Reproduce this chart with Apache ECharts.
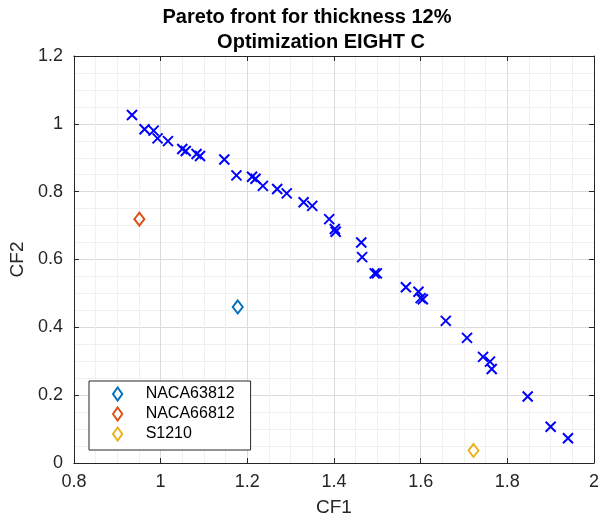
<!DOCTYPE html>
<html>
<head>
<meta charset="utf-8">
<script src="https://cdn.jsdelivr.net/npm/echarts@6/dist/echarts.min.js"></script>
<style>
html,body{margin:0;padding:0;background:#fff;}
#chart{width:602px;height:522px;}
</style>
</head>
<body>
<div id="chart"></div>
<script>
// Pareto front points (optimization results)
var paretoCF1 = [0.934, 0.963, 0.984, 0.993, 1.017, 1.050, 1.058, 1.083, 1.091, 1.147,
  1.175, 1.211, 1.219, 1.236, 1.269, 1.291, 1.330, 1.350, 1.389, 1.402,
  1.404, 1.463, 1.465, 1.494, 1.499, 1.566, 1.595, 1.600, 1.605, 1.658,
  1.707, 1.744, 1.760, 1.764, 1.847, 1.900, 1.940];
var paretoCF2 = [1.026, 0.984, 0.980, 0.957, 0.949, 0.926, 0.920, 0.911, 0.905, 0.895,
  0.848, 0.844, 0.838, 0.817, 0.808, 0.795, 0.769, 0.758, 0.719, 0.690,
  0.682, 0.650, 0.607, 0.559, 0.559, 0.518, 0.505, 0.486, 0.483, 0.419,
  0.369, 0.313, 0.299, 0.277, 0.196, 0.107, 0.073];

// Reference airfoils
var airfoilNames = ['NACA63812', 'NACA66812', 'S1210'];
var airfoilCF1 = [1.178, 0.951, 1.722];
var airfoilCF2 = [0.460, 0.719, 0.037];
var airfoilColors = ['#0072BD', '#D95319', '#EDB120'];

// Axis ticks
var xTicks = {min: 0.8, max: 2, interval: 0.2};
var yTicks = {min: 0, max: 1.2, interval: 0.2};

var axisColor = '#262626';
var fontFam = '"Liberation Sans", Arial, Helvetica, sans-serif';
var diamondPath = 'path://M5,0L10,7L5,14L0,7Z';

function zip(a, b) { return a.map(function (v, i) { return [v, b[i]]; }); }

var series = [{
  name: 'Pareto',
  type: 'scatter',
  xAxisIndex: 0, yAxisIndex: 0,
  data: zip(paretoCF1, paretoCF2),
  symbol: 'path://M0,0L10,10M10,0L0,10',
  symbolSize: 10,
  itemStyle: {color: 'transparent', borderColor: '#0000ff', borderWidth: 2, opacity: 1},
  emphasis: {disabled: true},
  z: 3
}];
airfoilNames.forEach(function (n, i) {
  series.push({
    name: n,
    type: 'scatter',
    xAxisIndex: 0, yAxisIndex: 0,
    data: [[airfoilCF1[i], airfoilCF2[i]]],
    symbol: diamondPath,
    symbolSize: [10, 13],
    itemStyle: {color: 'transparent', borderColor: airfoilColors[i], borderWidth: 2, opacity: 1},
    emphasis: {disabled: true},
    z: 4
  });
});

var chart = echarts.init(document.getElementById('chart'), null, {renderer: 'canvas'});
chart.setOption({
  animation: false,
  backgroundColor: '#fff',
  title: [{
    text: 'Pareto front for thickness 12%',
    left: 302, top: 2, textAlign: 'center',
    textStyle: {fontFamily: fontFam, fontSize: 20, fontWeight: 'bold', color: '#000'}
  }, {
    text: 'Optimization EIGHT C',
    left: 316, top: 27, textAlign: 'center',
    textStyle: {fontFamily: fontFam, fontSize: 20, fontWeight: 'bold', color: '#000'}
  }],
  grid: {left: 73, right: 5, top: 56, bottom: 59, containLabel: false},
  legend: {
    orient: 'vertical',
    left: 89, top: 381,
    padding: [5, 16, 8, 23],
    itemGap: 4,
    itemWidth: 46, itemHeight: 13,
    backgroundColor: '#fff',
    borderColor: axisColor, borderWidth: 1,
    textStyle: {fontFamily: fontFam, fontSize: 16, color: '#000'},
    data: airfoilNames.map(function (n) { return {name: n, icon: diamondPath}; })
  },
  xAxis: [{
    type: 'value', position: 'bottom',
    min: xTicks.min, max: xTicks.max, interval: xTicks.interval,
    name: 'CF1', nameLocation: 'middle', nameGap: 35,
    nameTextStyle: {fontFamily: fontFam, fontSize: 19, color: axisColor},
    axisLine: {show: true, onZero: false, lineStyle: {color: axisColor, width: 1}},
    axisTick: {show: true, inside: true, length: 5, lineStyle: {color: axisColor}},
    axisLabel: {margin: 10, fontFamily: fontFam, fontSize: 18, color: axisColor},
    splitLine: {show: true, lineStyle: {color: '#dcdcdc', width: 1}},
    minorTick: {show: false, splitNumber: 4},
    minorSplitLine: {show: true, lineStyle: {color: '#f0f0f0', width: 1}}
  }, {
    type: 'value', position: 'top',
    min: xTicks.min, max: xTicks.max, interval: xTicks.interval,
    axisLine: {show: true, onZero: false, lineStyle: {color: axisColor, width: 1}},
    axisTick: {show: true, inside: true, length: 5, lineStyle: {color: axisColor}},
    axisLabel: {show: false},
    splitLine: {show: false}
  }],
  yAxis: [{
    type: 'value', position: 'left',
    min: yTicks.min, max: yTicks.max, interval: yTicks.interval,
    name: 'CF2', nameLocation: 'middle', nameGap: 46, nameRotate: 90,
    nameTextStyle: {fontFamily: fontFam, fontSize: 19, color: axisColor},
    axisLine: {show: true, onZero: false, lineStyle: {color: axisColor, width: 1}},
    axisTick: {show: true, inside: true, length: 5, lineStyle: {color: axisColor}},
    axisLabel: {margin: 11, fontFamily: fontFam, fontSize: 18, color: axisColor},
    splitLine: {show: true, lineStyle: {color: '#dcdcdc', width: 1}},
    minorTick: {show: false, splitNumber: 4},
    minorSplitLine: {show: true, lineStyle: {color: '#f0f0f0', width: 1}}
  }, {
    type: 'value', position: 'right',
    min: yTicks.min, max: yTicks.max, interval: yTicks.interval,
    axisLine: {show: true, onZero: false, lineStyle: {color: axisColor, width: 1}},
    axisTick: {show: true, inside: true, length: 5, lineStyle: {color: axisColor}},
    axisLabel: {show: false},
    splitLine: {show: false}
  }],
  series: series
});
</script>
</body>
</html>
